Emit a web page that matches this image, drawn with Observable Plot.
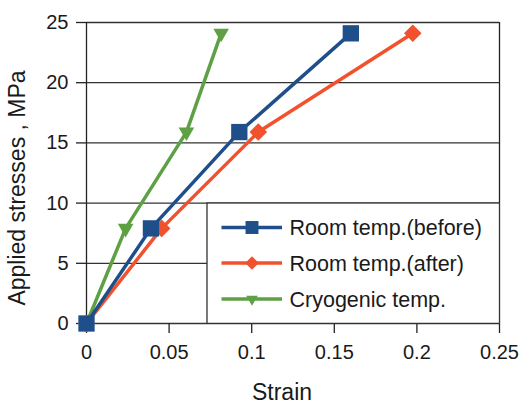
<!DOCTYPE html>
<html><head><meta charset="utf-8">
<script src="https://cdn.jsdelivr.net/npm/d3@7"></script>
<script src="https://cdn.jsdelivr.net/npm/@observablehq/plot@0.6"></script>
<style>
body{margin:0;background:#fff;font-family:"Liberation Sans",Arial,sans-serif}
#wrap{position:relative;width:521px;height:403px;overflow:hidden}
#legend{position:absolute}
</style>
</head><body><div id="wrap"></div>
<script>
const seriesNames = ["Room temp.(before)", "Room temp.(after)", "Cryogenic temp."];
const stress = [0, 7.9, 15.9, 24.1];
const strainBefore = [0, 0.039, 0.0925, 0.160];
const strainAfter = [0, 0.0455, 0.104, 0.1975];
const strainCryo = [0, 0.0237, 0.0605, 0.0815];
const xTicks = [0, 0.05, 0.1, 0.15, 0.2, 0.25];
const yTicks = [0, 5, 10, 15, 20, 25];
const colors = ["#1f4f8b", "#f2512d", "#5ea044"];
const xTitle = "Strain";
const yTitle = "Applied stresses , MPa";

const strains = [strainBefore, strainAfter, strainCryo];
const tables = seriesNames.map((s, i) => strains[i].map((x, j) => ({series: s, strain: x, stress: stress[j]})));

const markerSpec = [
  {symbol: "square", rotate: 0, r: 9.2},
  {symbol: "square", rotate: 45, r: 7.0},
  {symbol: "triangle", rotate: 180, r: 5.8}
];

const seriesMarks = [];
[2, 1, 0].forEach(i => {
  seriesMarks.push(Plot.line(tables[i], {x: "strain", y: "stress", stroke: colors[i], strokeWidth: 3.5}));
  seriesMarks.push(Plot.dot(tables[i], {x: "strain", y: "stress", fill: colors[i], stroke: "none",
    symbol: markerSpec[i].symbol, rotate: markerSpec[i].rotate, r: markerSpec[i].r}));
});

const chart = Plot.plot({
  width: 521, height: 403,
  marginLeft: 86, marginRight: 22, marginTop: 22, marginBottom: 80,
  style: {fontFamily: "'Liberation Sans', Arial, sans-serif", fontSize: "20px", color: "#1a1a1a", background: "white", overflow: "visible"},
  x: {domain: [0, 0.25]},
  y: {domain: [0, 25]},
  marks: [
    Plot.ruleY(yTicks, {y: d => d, stroke: "#333", strokeWidth: 1.3}),
    Plot.ruleX([xTicks[0], xTicks[xTicks.length - 1]], {x: d => d, stroke: "#222", strokeWidth: 1.3}),
    Plot.axisX({ticks: xTicks, tickFormat: d => String(d), tickSize: 10, tickPadding: 11, label: null, fontSize: 20, stroke: "#222", strokeWidth: 1.3, strokeOpacity: 1}),
    Plot.axisY({ticks: yTicks, tickFormat: d => String(d), tickSize: 10, tickPadding: 8, label: null, fontSize: 20, stroke: "#222", strokeWidth: 1.3, strokeOpacity: 1}),
    Plot.text([xTitle], {frameAnchor: "bottom", textAnchor: "middle", lineAnchor: "bottom", dy: 76, dx: -11, fontSize: 23, fill: "#1a1a1a"}),
    Plot.text([yTitle], {frameAnchor: "left", textAnchor: "middle", lineAnchor: "middle", rotate: -90, dx: -69, dy: 15, fontSize: 23, fill: "#1a1a1a"}),
    ...seriesMarks
  ]
});

const wrap = document.getElementById("wrap");
wrap.appendChild(chart);

// Legend box overlaid on the lower right of the plot area
const sx = Plot.scale({x: {domain: [0, 0.25], range: [86, 499]}});
const sy = Plot.scale({y: {domain: [0, 25], range: [323, 22]}});
const boxLeft = 206.5, boxTop = sy.apply(10), boxRight = sx.apply(0.25), boxBottom = sy.apply(0);
const lw = boxRight - boxLeft, lh = boxBottom - boxTop;
const leg = d3.select(wrap).append("svg")
  .attr("id", "legend")
  .attr("width", lw + 2).attr("height", lh + 2)
  .style("left", (boxLeft - 1) + "px").style("top", (boxTop - 1) + "px");
leg.append("rect").attr("x", 1).attr("y", 1).attr("width", lw).attr("height", lh)
  .attr("fill", "white").attr("stroke", "#333").attr("stroke-width", 1.3);
const rowY = [25.5, 61, 97];
const legR = [7.3, 5.4, 4.3];
seriesNames.forEach((name, i) => {
  const g = leg.append("g").attr("transform", `translate(1,${rowY[i]})`);
  g.append("line").attr("x1", 14.5).attr("x2", 75).attr("y1", 0).attr("y2", 0)
    .attr("stroke", colors[i]).attr("stroke-width", 3.5);
  const sym = markerSpec[i].symbol === "square" ? d3.symbolSquare : d3.symbolTriangle;
  g.append("path").attr("d", d3.symbol(sym, legR[i] * legR[i] * Math.PI)())
    .attr("transform", `translate(45,0) rotate(${markerSpec[i].rotate})`)
    .attr("fill", colors[i]);
  g.append("text").attr("x", 82.5).attr("y", 0).attr("dy", "0.35em")
    .attr("font-size", 21.5).attr("fill", "#1a1a1a")
    .attr("font-family", "'Liberation Sans', Arial, sans-serif")
    .text(name);
});
</script>
</body></html>
